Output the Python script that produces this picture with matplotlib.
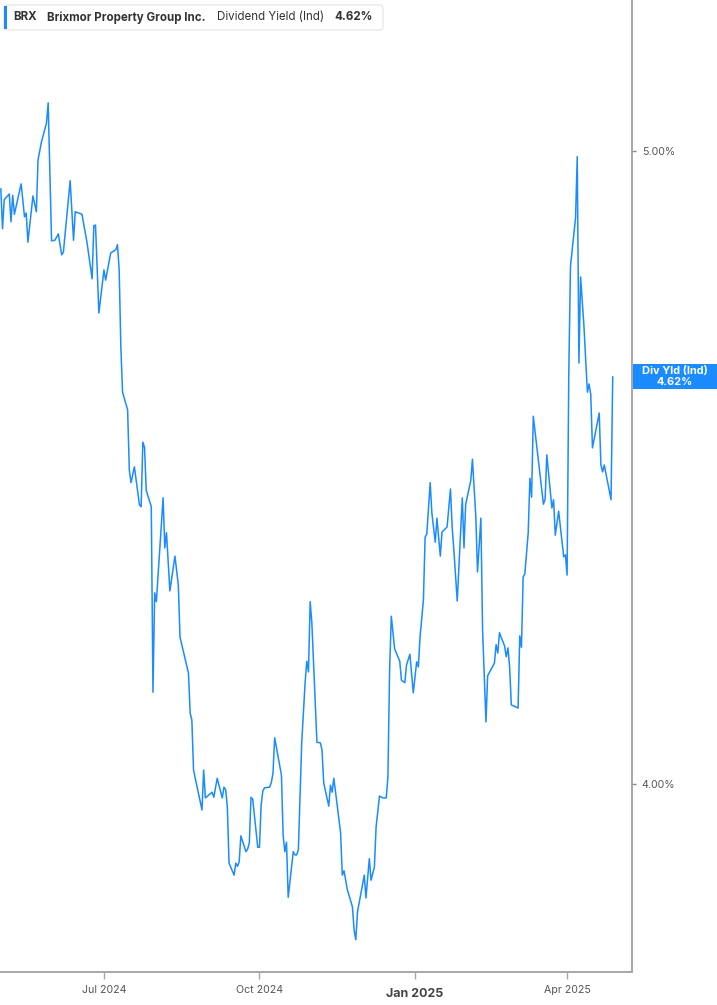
import matplotlib.pyplot as plt
import matplotlib.patches as mpatches
import pandas as pd

# BRX dividend yield (Ind)
start_date = "2024-05-01"
day_offset = [
    0, 1, 2, 5, 6, 7, 8, 12, 14, 15, 16, 19, 21, 22, 24, 27, 28, 30, 32, 34,
    36, 37, 41, 43, 44, 48, 51, 54, 55, 56, 58, 61, 62, 65, 68, 69, 70, 71, 72, 75,
    76, 77, 79, 82, 83, 84, 85, 86, 89, 90, 91, 92, 96, 97, 98, 100, 103, 105, 106, 111,
    112, 113, 114, 119, 120, 121, 125, 126, 128, 131, 132, 133, 134, 135, 138, 139, 140, 141, 142, 145,
    146, 147, 148, 149, 152, 153, 154, 155, 156, 159, 160, 161, 162, 166, 167, 168, 169, 170, 173, 174,
    175, 176, 177, 178, 180, 181, 182, 183, 184, 187, 189, 190, 191, 194, 195, 196, 197, 201, 202, 203,
    205, 208, 209, 210, 211, 215, 216, 218, 219, 221, 222, 224, 226, 228, 229, 230, 231, 233, 236, 237,
    239, 240, 242, 244, 246, 247, 248, 250, 251, 252, 254, 255, 257, 258, 260, 261, 264, 266, 267, 268,
    270, 273, 274, 275, 278, 279, 281, 282, 284, 285, 287, 288, 292, 293, 294, 295, 298, 299, 300, 301,
    302, 306, 307, 308, 309, 310, 312, 313, 314, 315, 321, 322, 323, 326, 327, 328, 330, 333, 334, 335,
    336, 337, 340, 341, 342, 343, 345, 347, 348, 349, 350, 354, 355, 356, 357, 361, 362,
]
div_yield = [
    4.940, 4.877, 4.923, 4.932, 4.888, 4.930, 4.900, 4.948, 4.896, 4.902,
    4.856, 4.929, 4.904, 4.986, 5.014, 5.044, 5.076, 4.858, 4.859, 4.869,
    4.836, 4.840, 4.953, 4.859, 4.904, 4.900, 4.855, 4.798, 4.882, 4.883,
    4.744, 4.812, 4.796, 4.839, 4.844, 4.852, 4.812, 4.690, 4.619, 4.591,
    4.496, 4.476, 4.501, 4.441, 4.438, 4.540, 4.532, 4.464, 4.438, 4.145,
    4.302, 4.288, 4.452, 4.373, 4.397, 4.305, 4.360, 4.314, 4.232, 4.175,
    4.112, 4.101, 4.022, 3.959, 4.022, 3.978, 3.987, 3.979, 4.009, 3.978,
    3.995, 3.991, 3.964, 3.875, 3.856, 3.875, 3.870, 3.877, 3.918, 3.893,
    3.897, 3.907, 3.979, 3.976, 3.900, 3.900, 3.967, 3.989, 3.994, 3.995,
    4.002, 4.017, 4.073, 4.014, 3.919, 3.893, 3.908, 3.821, 3.893, 3.888,
    3.888, 3.896, 3.979, 4.065, 4.160, 4.194, 4.177, 4.288, 4.254, 4.066,
    4.065, 4.054, 4.002, 3.965, 3.998, 3.987, 4.009, 3.923, 3.856, 3.863,
    3.833, 3.806, 3.769, 3.754, 3.798, 3.856, 3.820, 3.882, 3.848, 3.869,
    3.932, 3.981, 3.978, 3.978, 4.011, 4.180, 4.265, 4.213, 4.194, 4.164,
    4.160, 4.188, 4.205, 4.144, 4.193, 4.185, 4.232, 4.291, 4.390, 4.395,
    4.476, 4.428, 4.382, 4.420, 4.360, 4.398, 4.406, 4.466, 4.406, 4.370,
    4.289, 4.452, 4.373, 4.442, 4.479, 4.513, 4.422, 4.335, 4.420, 4.243,
    4.098, 4.171, 4.191, 4.220, 4.207, 4.239, 4.218, 4.201, 4.215, 4.185,
    4.125, 4.120, 4.234, 4.216, 4.327, 4.332, 4.397, 4.483, 4.453, 4.581,
    4.442, 4.450, 4.520, 4.436, 4.449, 4.393, 4.431, 4.359, 4.362, 4.330,
    4.649, 4.818, 4.894, 4.991, 4.665, 4.801, 4.722, 4.619, 4.632, 4.615,
    4.531, 4.586, 4.504, 4.493, 4.504, 4.449, 4.643,
]

ticker = "BRX"
company = "Brixmor Property Group Inc."
metric = "Dividend Yield (Ind)"
last_text = "4.62%"
end_label = ["Div Yld (Ind)", "4.62%"]
tick_dates = ["2024-07-01", "2024-10-01", "2025-01-01", "2025-04-01"]
tick_labels = ["Jul 2024", "Oct 2024", "Jan 2025", "Apr 2025"]
y_ticks = [4.0, 5.0]

BLUE = "#1a8cff"
W, H = 717, 1005
plt.rcParams["font.family"] = ["Inter", "DejaVu Sans"]

fig = plt.figure(figsize=(W / 100, H / 100), dpi=100)
ax = fig.add_axes([0, 1 - 972 / H, 632 / W, 972 / H])

t0 = pd.Timestamp(start_date)
dates = t0 + pd.to_timedelta(day_offset, unit="D")
ax.plot(dates, div_yield, color=BLUE, lw=1.1)

ax.set_xlim(t0 - pd.Timedelta(days=0.5), t0 + pd.Timedelta(days=373.4))
ax.set_ylim(3.703, 5.2385)

for s in ["top", "left"]:
    ax.spines[s].set_visible(False)
for s in ["right", "bottom"]:
    ax.spines[s].set_color("#a6a6a6")
    ax.spines[s].set_linewidth(1.4)

ax.yaxis.tick_right()
ax.set_yticks(y_ticks)
ax.set_yticklabels([f"{v:.2f}%" for v in y_ticks])
ax.tick_params(axis="y", length=3, width=1, color="#888888", pad=4,
               labelsize=7.6, labelcolor="#555555")

ax.set_xticks(pd.to_datetime(tick_dates))
ax.set_xticklabels(tick_labels)
ax.tick_params(axis="x", length=5, width=1, color="#a6a6a6", pad=4,
               labelsize=7.6, labelcolor="#555555")
for lbl in ax.get_xticklabels():
    if lbl.get_text() == "Jan 2025":
        lbl.set_fontweight("bold")
        lbl.set_fontsize(9)
        lbl.set_color("#444444")
        lbl.set_y(-0.004)

# legend box at the top left
box = mpatches.FancyBboxPatch((4 / W, 1 - 30 / H), 379 / W, 25 / H,
                              boxstyle="round,pad=0,rounding_size=0.004",
                              transform=fig.transFigure, facecolor="white",
                              edgecolor="#e4e4e4", lw=0.8, zorder=5)
fig.patches.append(box)
bar = mpatches.Rectangle((4 / W, 1 - 29 / H), 3 / W, 23 / H, transform=fig.transFigure,
                         facecolor=BLUE, edgecolor="none", zorder=6)
fig.patches.append(bar)
ty = 1 - 17.5 / H
txt_kw = dict(fontsize=8.3, color="#333333", va="center", zorder=7)
fig.text(13 / W, ty, ticker, fontweight="bold", **txt_kw)
fig.text(47 / W, ty, company, fontweight="bold", **txt_kw)
fig.text(217 / W, ty, metric, **txt_kw)
fig.text(334 / W, ty, last_text, fontweight="bold", **txt_kw)

# end-of-line label on the right axis
y_disp = ax.transData.transform((0, div_yield[-1]))[1]
yc = y_disp / H
lab = mpatches.Rectangle((633 / W, yc - 12.5 / H), (W - 633) / W, 25 / H,
                         transform=fig.transFigure, facecolor=BLUE, edgecolor="none", zorder=5)
fig.patches.append(lab)
fig.text(675 / W, yc + 5.5 / H, end_label[0], fontsize=7.9, fontweight="bold",
         color="white", ha="center", va="center", zorder=7)
fig.text(675 / W, yc - 5.5 / H, end_label[1], fontsize=7.9, fontweight="bold",
         color="white", ha="center", va="center", zorder=7)

fig.savefig("out.png", dpi=100)
